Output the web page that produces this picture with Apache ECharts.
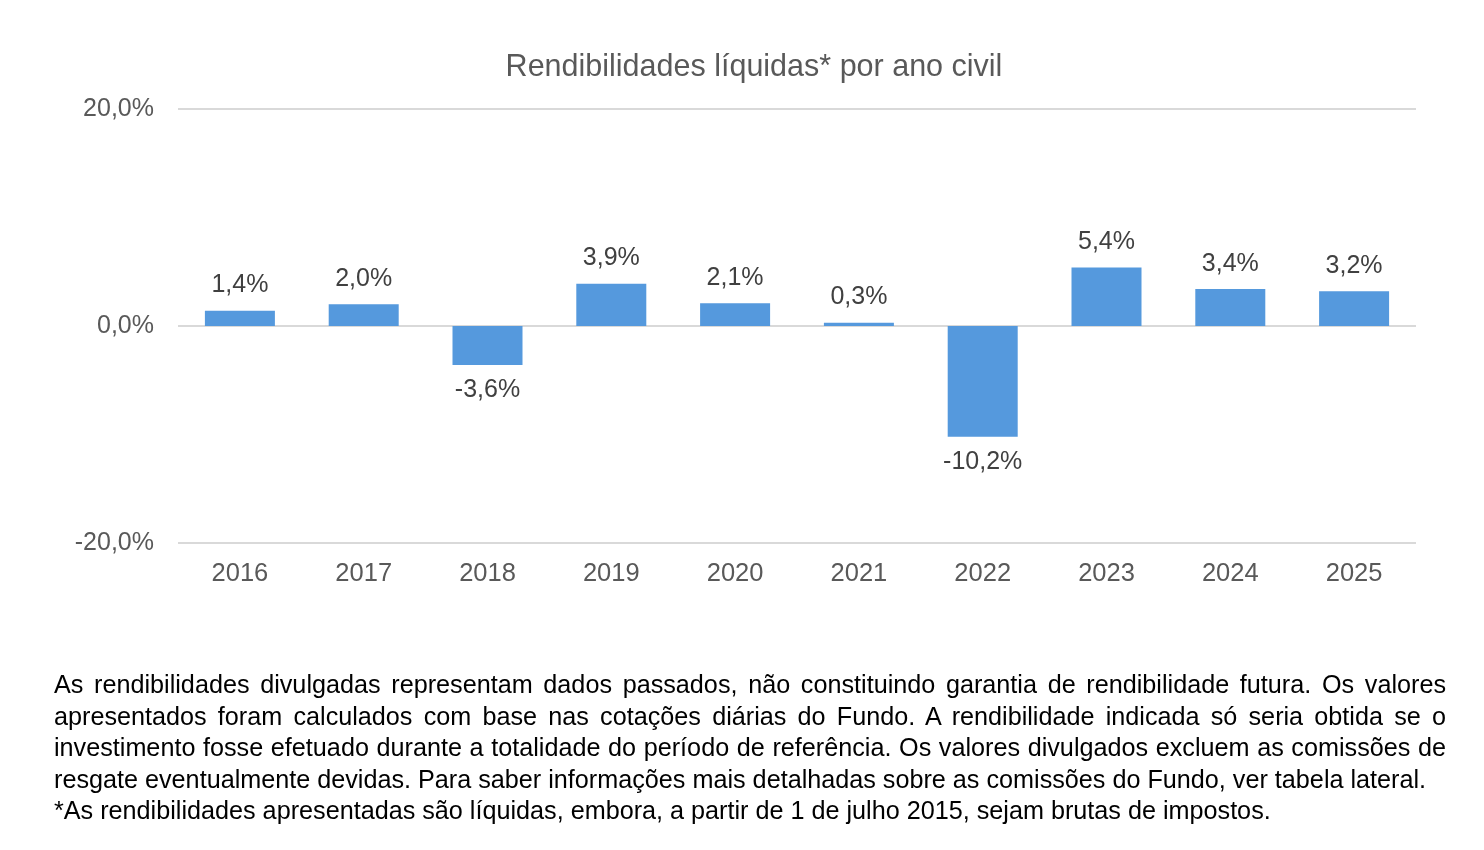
<!DOCTYPE html>
<html><head><meta charset="utf-8">
<script src="https://cdn.jsdelivr.net/npm/echarts@6/dist/echarts.min.js"></script>
<style>
body{margin:0;background:#fff;}
#c{position:absolute;left:0;top:0;width:1484px;height:850px;}
#t{position:absolute;left:54px;top:669px;width:1392px;font-family:"Liberation Sans",Arial,sans-serif;font-size:25.2px;line-height:31.5px;color:#000;text-align:justify;}
</style></head><body>
<div id="c"></div>
<div id="t">As rendibilidades divulgadas representam dados passados, não constituindo garantia de rendibilidade futura. Os valores apresentados foram calculados com base nas cotações diárias do Fundo. A rendibilidade indicada só seria obtida se o investimento fosse efetuado durante a totalidade do período de referência. Os valores divulgados excluem as comissões de resgate eventualmente devidas. Para saber informações mais detalhadas sobre as comissões do Fundo, ver tabela lateral.<br>*As rendibilidades apresentadas são líquidas, embora, a partir de 1 de julho 2015, sejam brutas de impostos.</div>
<script>
const years=['2016','2017','2018','2019','2020','2021','2022','2023','2024','2025'];
const returns=[1.4,2.0,-3.6,3.9,2.1,0.3,-10.2,5.4,3.4,3.2];
const fmt=v=>v.toFixed(1).replace('.',',')+'%';
const ch=echarts.init(document.getElementById('c'));
ch.setOption({
 animation:false,
 title:{text:'Rendibilidades líquidas* por ano civil',left:749,top:47,textAlign:'center',textStyle:{fontFamily:'Liberation Sans',fontSize:30.5,fontWeight:'normal',color:'#595959'}},
 grid:{left:178,right:68,top:109,bottom:307},
 xAxis:{type:'category',data:years,axisLine:{show:false},axisTick:{show:false},
  axisLabel:{color:'#595959',fontSize:25.5,fontFamily:'Liberation Sans',margin:18}},
 yAxis:{type:'value',min:-20,max:20,interval:20,splitLine:{lineStyle:{color:'#d9d9d9',width:2}},
  axisLabel:{color:'#595959',fontSize:25,fontFamily:'Liberation Sans',margin:24,formatter:fmt}},
 series:[{type:'bar',data:returns,barWidth:70,itemStyle:{color:'#5599dd'},
  label:{show:true,position:'outside',formatter:p=>fmt(p.value),color:'#404040',fontSize:25,fontFamily:'Liberation Sans',distance:13}}]
});
</script></body></html>
